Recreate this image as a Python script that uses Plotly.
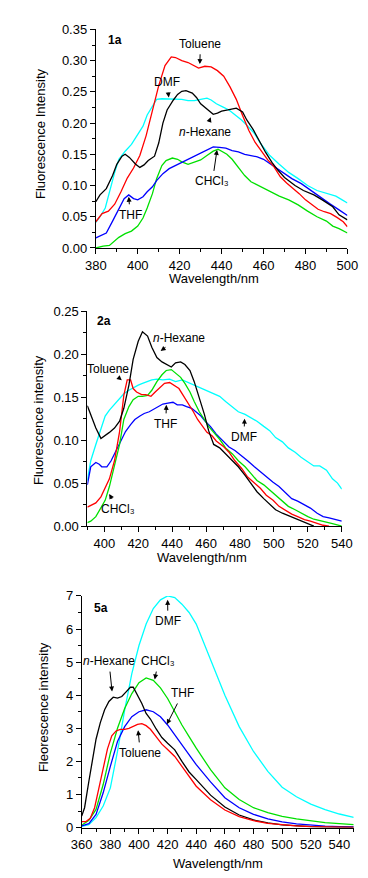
import plotly.graph_objects as go

W, H = 368, 878
FONT = "Liberation Sans, Arial, sans-serif"

# ---------------- Panel 1a ----------------
p1_toluene_wl = [380,383,386,389,392,395,398,401,404,407,410,413,416,418,421,424,427,429,432,435,438,441,444,447,450,453,456,459,462,465,468,471,474,477,480,483,486,489,492,495,498,500]
p1_toluene = [0.042,0.055,0.059,0.070,0.090,0.112,0.128,0.148,0.180,0.218,0.260,0.292,0.306,0.305,0.300,0.297,0.292,0.288,0.291,0.290,0.284,0.275,0.258,0.238,0.212,0.188,0.169,0.155,0.141,0.130,0.114,0.104,0.096,0.087,0.077,0.069,0.062,0.058,0.055,0.049,0.042,0.034]

p1_hexane_wl = [380,382,385,388,390,392.5,394,396,399,401,403,405,408,410,412,414,417,419,421,423,426,428,430,433,436,438,440,443,447,450,452,455,458,461,464,467,470,475,479,484,488,493,496,500]
p1_hexane = [0.074,0.085,0.095,0.116,0.134,0.147,0.150,0.145,0.134,0.129,0.133,0.140,0.147,0.168,0.200,0.221,0.237,0.246,0.251,0.252,0.248,0.241,0.231,0.222,0.214,0.216,0.219,0.221,0.224,0.218,0.205,0.190,0.171,0.153,0.137,0.124,0.113,0.100,0.092,0.085,0.077,0.066,0.053,0.045]

p1_dmf_wl = [380,382,384.5,386.5,389,391,394,397,400,402.5,404.5,407,409,411.5,415,418,421,424,427,430,433,435,437.5,440.5,443.5,446.5,449.5,452.5,455.5,458.5,463,467.5,472,476.5,481,485.5,490,494.5,497.5,500]
p1_dmf = [0.041,0.050,0.064,0.090,0.121,0.142,0.155,0.166,0.182,0.195,0.213,0.226,0.238,0.239,0.239,0.238,0.238,0.236,0.236,0.238,0.240,0.237,0.231,0.226,0.221,0.213,0.205,0.195,0.184,0.168,0.148,0.134,0.121,0.111,0.100,0.092,0.087,0.083,0.077,0.072]

p1_thf_wl = [380,382,385,388,391,393.5,395.7,398,400,402.5,404.5,407,409,412,415,418,421,424,427,430,433,436,439,442,445,448,451,454,457,460,464.5,469,473.5,478,482.5,487,491.5,496,500]
p1_thf = [0.016,0.019,0.024,0.043,0.064,0.079,0.085,0.079,0.077,0.082,0.090,0.098,0.108,0.119,0.127,0.132,0.137,0.142,0.148,0.153,0.158,0.162,0.161,0.160,0.156,0.154,0.150,0.148,0.146,0.142,0.132,0.121,0.111,0.103,0.092,0.082,0.071,0.061,0.052]

p1_chcl3_wl = [380,383.5,386.5,389,391,394,397,400,402.5,404.5,407,409,411.5,413.5,416.5,419,421,424,427,430,433,436,438.3,440.5,442.5,445,448,451,454,457,460,463,467.5,472,476.5,481,485.5,490,493,496,500]
p1_chcl3 = [0.000,0.003,0.004,0.011,0.017,0.023,0.027,0.035,0.048,0.064,0.087,0.111,0.132,0.140,0.144,0.142,0.138,0.134,0.137,0.141,0.148,0.155,0.158,0.154,0.150,0.142,0.129,0.116,0.106,0.101,0.096,0.090,0.083,0.077,0.069,0.059,0.050,0.043,0.035,0.031,0.024]

# ---------------- Panel 2a ----------------
p2_hexane_wl = [390,392,395,398,400.5,403,406,409,411.5,414.5,417,420,422.5,425.5,428,431,434,436.5,439.5,442,445,447.5,450.5,453,456,459,461.5,464.5,468,471.5,475.5,479,483,486.5,490,494,497.5,501,505,508.5,512.5,516,520,523.5]
p2_hexane = [0.140,0.130,0.114,0.102,0.105,0.109,0.114,0.122,0.137,0.164,0.194,0.215,0.226,0.221,0.208,0.196,0.191,0.188,0.185,0.190,0.191,0.188,0.181,0.168,0.149,0.130,0.111,0.095,0.091,0.084,0.076,0.069,0.059,0.050,0.040,0.032,0.025,0.019,0.015,0.012,0.0095,0.0057,0.003,0.0]

p2_toluene_wl = [390,392,395,398,400.5,403,406,409,411.5,413.5,415.5,417,419,422,424.5,427.5,430,433,435.5,438.5,441,444,446.5,449.5,452.5,455,458,460.5,463.5,466,470,473.5,477,481,484.5,488.5,492,495.5,499.5,503,507,510.5,514,518,521.5,525.5,529,532.5]
p2_toluene = [0.022,0.024,0.027,0.034,0.044,0.055,0.076,0.110,0.152,0.170,0.170,0.160,0.156,0.153,0.153,0.151,0.156,0.162,0.166,0.167,0.164,0.160,0.152,0.143,0.133,0.124,0.116,0.109,0.105,0.099,0.093,0.086,0.076,0.067,0.057,0.050,0.044,0.036,0.030,0.023,0.018,0.014,0.011,0.0076,0.0057,0.003,0.001,0.0]

p2_chcl3_wl = [390,392,395,398,400.5,403,406,409,411.5,414.5,417,420,422.5,425.5,428,431,434,436.5,439.5,442,445,447.5,450.5,453,456,459,461.5,464.5,468,471.5,475.5,479,483,486.5,490,494,497.5,501,505,508.5,512.5,516,520,523.5,527,531,534.5,540]
p2_chcl3 = [0.004,0.0057,0.011,0.021,0.030,0.046,0.069,0.095,0.124,0.139,0.147,0.151,0.151,0.152,0.158,0.168,0.176,0.181,0.182,0.178,0.173,0.166,0.156,0.145,0.133,0.124,0.116,0.109,0.101,0.091,0.084,0.076,0.069,0.061,0.053,0.048,0.042,0.036,0.030,0.023,0.019,0.015,0.011,0.008,0.0065,0.0046,0.003,0.0]

p2_dmf_wl = [390,392,395,398,400.5,403,406,409,411.5,414.5,417,420,422.5,425.5,428,431,434.5,438.5,442,446,449.5,453,457,460.5,464.5,468,471.5,475.5,479,483,486.5,490,494,497.5,501,505,508.5,512.5,516,520,523.5,527,531,534.5,537.5,540]
p2_dmf = [0.053,0.076,0.095,0.114,0.128,0.135,0.142,0.149,0.154,0.158,0.161,0.164,0.166,0.168,0.170,0.171,0.170,0.171,0.168,0.170,0.167,0.164,0.161,0.158,0.154,0.151,0.145,0.139,0.133,0.130,0.126,0.122,0.116,0.111,0.103,0.098,0.091,0.086,0.080,0.075,0.070,0.070,0.065,0.055,0.050,0.043]

p2_thf_wl = [390,392,395,397,398.5,401.5,404,407,410,412.5,415.5,418,421,423.5,426.5,429,432,434.5,437.5,440.5,443,446,448.5,451.5,454,457,459.5,462.5,466,470,473.5,477,481,484.5,488.5,492,495.5,499.5,503,507,510.5,514,518,521.5,525.5,529,532.5,536.5,540]
p2_thf = [0.048,0.069,0.074,0.072,0.069,0.069,0.076,0.088,0.099,0.110,0.118,0.124,0.128,0.131,0.133,0.136,0.139,0.142,0.143,0.144,0.141,0.141,0.139,0.137,0.133,0.128,0.122,0.116,0.107,0.099,0.092,0.088,0.082,0.076,0.069,0.063,0.057,0.051,0.046,0.038,0.032,0.029,0.025,0.021,0.015,0.011,0.0095,0.0076,0.0057]

# ---------------- Panel 5a ----------------
p3_grid_wl = [360,365,370,375,380,385,390,395,400,405,410,415,420,425,430,435,440,450,460,470,480,490,500,510,520,530,540,550]
p3_dmf = [0.04,0.09,0.30,0.65,1.20,2.30,3.55,4.65,5.50,6.15,6.62,6.88,7.00,6.95,6.75,6.50,6.15,5.10,4.00,3.05,2.30,1.70,1.22,0.93,0.71,0.54,0.41,0.31]
p3_chcl3 = [0.07,0.22,0.55,1.30,2.25,3.00,3.60,4.05,4.38,4.52,4.45,4.22,3.90,3.50,3.10,2.75,2.40,1.75,1.20,0.85,0.60,0.45,0.34,0.26,0.20,0.15,0.12,0.09]
p3_thf = [0.05,0.12,0.40,1.05,1.85,2.60,3.05,3.35,3.50,3.56,3.50,3.35,3.10,2.80,2.48,2.20,1.90,1.38,0.90,0.60,0.40,0.26,0.17,0.11,0.07,0.045,0.03,0.02]

p3_hexane_wl = [360,362,365,368,370,373,376,379,382,385,388,391,394,396,399,402,405,408,412,416,420,425,430,435,440,450,460,470,480,490,500,510,520,530,540,550]
p3_hexane = [0.35,0.6,1.4,2.2,2.67,3.17,3.56,3.81,3.94,3.91,3.96,4.1,4.24,4.24,4.0,3.75,3.45,3.28,2.98,2.72,2.55,2.35,2.0,1.68,1.45,0.98,0.62,0.38,0.23,0.14,0.08,0.05,0.03,0.015,0.008,0.004]

p3_toluene_wl = [360,363,366,369,372,375,378,381,384,387,390,393,396,399,402,405,408,412,416,420,425,430,435,440,450,460,470,480,490,500,510,520,530,540,550]
p3_toluene = [0.18,0.18,0.28,0.6,1.19,1.78,2.38,2.77,2.92,2.97,2.97,3.0,3.05,3.12,3.14,3.08,2.97,2.75,2.52,2.36,2.15,1.85,1.53,1.25,0.84,0.53,0.33,0.21,0.13,0.08,0.05,0.03,0.02,0.01,0.006]

RED, BLACK, CYAN, BLUE, GREEN = "#FF0000", "#000000", "#00FFFF", "#0000FF", "#00E000"

fig = go.Figure()

def add(x, y, color, ax, name):
    fig.add_trace(go.Scatter(x=x, y=y, mode="lines", name=name,
                             line=dict(color=color, width=1.3),
                             xaxis="x" + ax, yaxis="y" + ax, showlegend=False))

# panel 1
add(p1_chcl3_wl, p1_chcl3, GREEN, "", "CHCl3")
add(p1_thf_wl, p1_thf, BLUE, "", "THF")
add(p1_dmf_wl, p1_dmf, CYAN, "", "DMF")
add(p1_toluene_wl, p1_toluene, RED, "", "Toluene")
add(p1_hexane_wl, p1_hexane, BLACK, "", "n-Hexane")
# panel 2
add(p2_dmf_wl, p2_dmf, CYAN, "2", "DMF")
add(p2_thf_wl, p2_thf, BLUE, "2", "THF")
add(p2_chcl3_wl, p2_chcl3, GREEN, "2", "CHCl3")
add(p2_toluene_wl, p2_toluene, RED, "2", "Toluene")
add(p2_hexane_wl, p2_hexane, BLACK, "2", "n-Hexane")
# panel 3
add(p3_grid_wl, p3_dmf, CYAN, "3", "DMF")
add(p3_grid_wl, p3_chcl3, GREEN, "3", "CHCl3")
add(p3_grid_wl, p3_thf, BLUE, "3", "THF")
add(p3_hexane_wl, p3_hexane, BLACK, "3", "n-Hexane")
add(p3_toluene_wl, p3_toluene, RED, "3", "Toluene")

def px(xp):
    return xp / W

def py(yp):
    return 1 - yp / H

TICKFONT = dict(family=FONT, size=13, color="black")

def xax(dom, anchor, rng, dtick, minor):
    return dict(domain=[px(dom[0]), px(dom[1])], anchor=anchor, range=rng,
                dtick=dtick, tick0=0, showline=True, linecolor="black", linewidth=1,
                ticks="outside", ticklen=5, tickwidth=1, tickcolor="black",
                minor=dict(dtick=minor, ticks="outside", ticklen=3, tickwidth=1, tickcolor="black"),
                showgrid=False, zeroline=False, tickfont=TICKFONT, fixedrange=True)

def yax(dom, anchor, rng, dtick, minor, fmt):
    d = dict(domain=[py(dom[1]), py(dom[0])], anchor=anchor, range=rng,
             dtick=dtick, tick0=0, showline=True, linecolor="black", linewidth=1,
             ticks="outside", ticklen=5, tickwidth=1, tickcolor="black",
             minor=dict(dtick=minor, ticks="outside", ticklen=3, tickwidth=1, tickcolor="black"),
             showgrid=False, zeroline=False, tickfont=TICKFONT, fixedrange=True)
    if fmt:
        d["tickformat"] = fmt
    return d

fig.update_layout(
    width=W, height=H, margin=dict(l=0, r=0, t=0, b=0),
    paper_bgcolor="white", plot_bgcolor="white",
    font=dict(family=FONT, color="black"),
    xaxis=xax((81.7, 349.3), "y", [380, 500], 20, 10),
    yaxis=yax((14.7, 237), "x", [0, 0.35], 0.05, 0.025, ".2f"),
    xaxis2=xax((72.7, 343.3), "y2", [390, 540], 20, 10),
    yaxis2=yax((301.3, 520), "x2", [0, 0.25], 0.05, 0.025, ".2f"),
    xaxis3=xax((66.7, 356), "y3", [360, 550], 20, 10),
    yaxis3=yax((591, 826.7), "x3", [0, 7], 1, 0.5, None),
)

ann = []
LBL = dict(family=FONT, size=12, color="black")
BOLD = dict(family=FONT, size=12, color="black", weight="bold")

def title(text, xp, yp, vertical=False):
    ann.append(dict(text=text, x=px(xp), y=py(yp), xref="paper", yref="paper",
                    showarrow=False, xanchor="center", yanchor="middle",
                    textangle=-90 if vertical else 0,
                    font=dict(family=FONT, size=13, color="black")))

title("Wavelength/nm", 207.2, 268.3)
title("Wavelength/nm", 194.3, 551.7)
title("Wavelength/nm", 211.3, 863.3)
title("Fluorescence Intensity", 22.7, 120.7, True)
title("Fluorescence intensity", 20.0, 412.3, True)
title("Fleorescence intensity", 26.7, 704.0, True)

def label(text, x, y, ax, font=LBL):
    ann.append(dict(text=text, x=x, y=y, xref="x" + ax, yref="y" + ax,
                    showarrow=False, xanchor="center", yanchor="middle", font=font))

def pointer(text, tx, ty, hx, hy, ax):
    # text centred at (tx, ty); arrow from the text box to the head at (hx, hy)
    ann.append(dict(text=text, x=hx, y=hy, ax=tx, ay=ty, xref="x" + ax, yref="y" + ax,
                    axref="x" + ax, ayref="y" + ax, showarrow=True, font=LBL,
                    arrowhead=2, arrowsize=1, arrowwidth=1, arrowcolor="black",
                    standoff=0, startstandoff=2))

CHCL3 = "CHCl\u2083"
HEX = "<i>n</i>-Hexane"

# panel 1 labels
label("1a", 389.3, 0.333, "", BOLD)
pointer("Toluene", 429.9, 0.327, 429.6, 0.2945, "")
pointer("DMF", 413.9, 0.2657, 414.8, 0.241, "")
pointer(HEX, 432.3, 0.1854, 434.8, 0.2094, "")
pointer(CHCL3, 435.6, 0.1066, 437.8, 0.157, "")
pointer("THF", 396.4, 0.0531, 395.7, 0.0819, "")

# panel 2 labels
label("2a", 400.0, 0.238, "2", BOLD)
pointer(HEX, 443.9, 0.2192, 433.2, 0.2038, "2")
pointer("Toluene", 402.4, 0.1829, 410.3, 0.1695, "2")
pointer("THF", 436.2, 0.1189, 436.6, 0.141, "2")
pointer("DMF", 482.3, 0.1037, 482.7, 0.125, "2")
pointer(CHCL3, 407.9, 0.0198, 402.9, 0.0374, "2")

# panel 3 labels
label("5a", 373.5, 6.635, "3", BOLD)
pointer("DMF", 420.2, 6.237, 420.0, 6.88, "3")
pointer(HEX, 379.0, 5.03, 381.2, 4.11, "3")
pointer(CHCL3, 413.6, 5.03, 411.0, 4.476, "3")
pointer("THF", 430.5, 4.06, 419.5, 3.12, "3")
pointer("Toluene", 400.9, 2.257, 399.4, 2.94, "3")

fig.update_layout(annotations=ann)
fig.write_html("out.html")
